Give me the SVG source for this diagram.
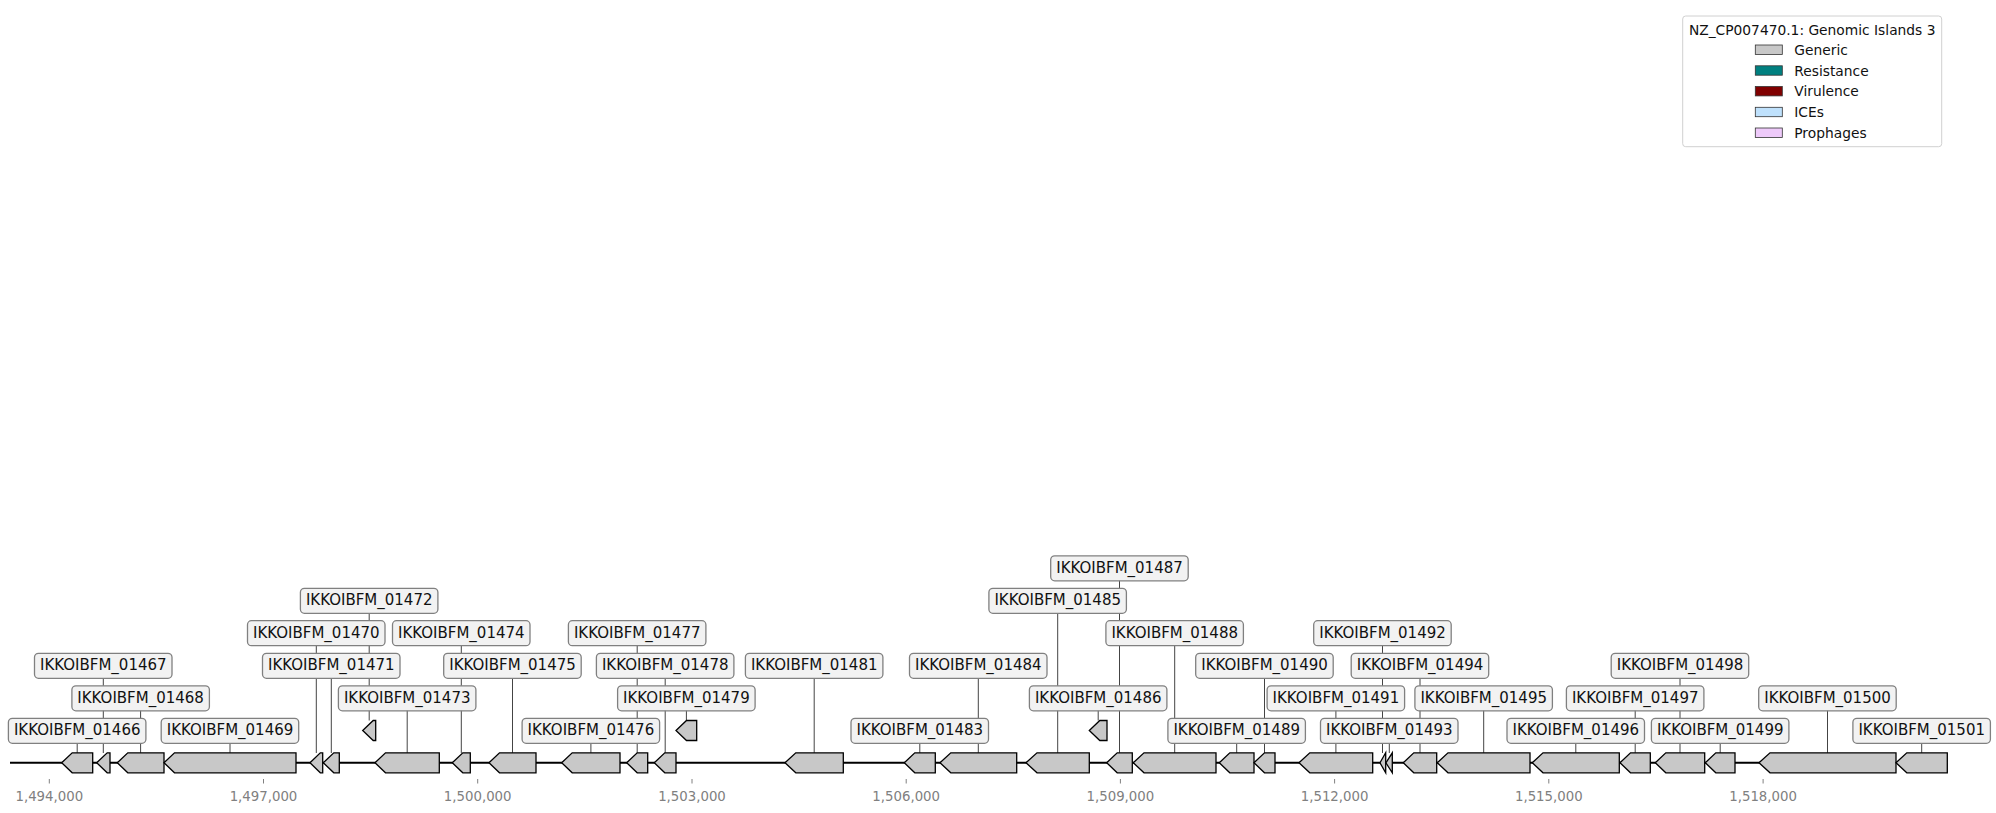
<svg xmlns="http://www.w3.org/2000/svg" width="1996" height="813" viewBox="0 0 1996 813">
  <style>
    text { font-family: "DejaVu Sans", "Liberation Sans", sans-serif; }
    .tick { stroke: #808080; stroke-width: 1; }
    .ticklbl { font-size: 13.3px; fill: #808080; text-anchor: middle; }
    .backbone { stroke: #000; stroke-width: 2; fill: none; }
    .lead { stroke: #444; stroke-width: 1; fill: none; }
    .gene { fill: #c8c8c8; stroke: #000; stroke-width: 1.3; stroke-linejoin: miter; }
    .lbox { fill: #f2f2f2; stroke: #808080; stroke-width: 1.3; }
    .ltxt { font-size: 15px; fill: #111; text-anchor: middle; }
    .legbox { fill: #fff; stroke: #d0d0d0; stroke-width: 1; }
    .legtxt { font-size: 13.8px; fill: #111; }
    .legpatch { stroke: #333; stroke-width: 0.8; }
  </style>

  <!-- legend -->
  <g id="legend">
    <rect class="legbox" x="1682.7" y="16" width="259" height="130.7" rx="3"/>
    <text class="legtxt" x="1812.2" y="34.5" text-anchor="middle">NZ_CP007470.1: Genomic Islands 3</text>
    <rect class="legpatch" x="1755.3" y="45" width="27" height="9.4" fill="#c8c8c8"/>
    <text class="legtxt" x="1794.3" y="54.8">Generic</text>
    <rect class="legpatch" x="1755.3" y="65.8" width="27" height="9.4" fill="#008080"/>
    <text class="legtxt" x="1794.3" y="75.6">Resistance</text>
    <rect class="legpatch" x="1755.3" y="86.5" width="27" height="9.4" fill="#800000"/>
    <text class="legtxt" x="1794.3" y="96.3">Virulence</text>
    <rect class="legpatch" x="1755.3" y="107.3" width="27" height="9.4" fill="#bfe1fc"/>
    <text class="legtxt" x="1794.3" y="117.1">ICEs</text>
    <rect class="legpatch" x="1755.3" y="128" width="27" height="9.4" fill="#eecafa"/>
    <text class="legtxt" x="1794.3" y="137.8">Prophages</text>
  </g>

  <!-- coordinate axis -->
  <g id="axis">
    <line class="tick" x1="49.3" y1="779" x2="49.3" y2="783.5"/>
    <line class="tick" x1="263.5" y1="779" x2="263.5" y2="783.5"/>
    <line class="tick" x1="477.7" y1="779" x2="477.7" y2="783.5"/>
    <line class="tick" x1="692" y1="779" x2="692" y2="783.5"/>
    <line class="tick" x1="906.2" y1="779" x2="906.2" y2="783.5"/>
    <line class="tick" x1="1120.4" y1="779" x2="1120.4" y2="783.5"/>
    <line class="tick" x1="1334.6" y1="779" x2="1334.6" y2="783.5"/>
    <line class="tick" x1="1548.8" y1="779" x2="1548.8" y2="783.5"/>
    <line class="tick" x1="1763.1" y1="779" x2="1763.1" y2="783.5"/>
    <text class="ticklbl" x="49.3" y="800.6">1,494,000</text>
    <text class="ticklbl" x="263.5" y="800.6">1,497,000</text>
    <text class="ticklbl" x="477.7" y="800.6">1,500,000</text>
    <text class="ticklbl" x="692" y="800.6">1,503,000</text>
    <text class="ticklbl" x="906.2" y="800.6">1,506,000</text>
    <text class="ticklbl" x="1120.4" y="800.6">1,509,000</text>
    <text class="ticklbl" x="1334.6" y="800.6">1,512,000</text>
    <text class="ticklbl" x="1548.8" y="800.6">1,515,000</text>
    <text class="ticklbl" x="1763.1" y="800.6">1,518,000</text>
  </g>

  <!-- sequence backbone -->
  <line class="backbone" x1="10" y1="762.8" x2="1947" y2="762.8"/>

  <!-- label leader lines -->
  <g id="connectors">
    <line class="lead" x1="77.2" y1="730.8" x2="77.2" y2="753"/>
    <line class="lead" x1="103.3" y1="665.8" x2="103.3" y2="753"/>
    <line class="lead" x1="140.6" y1="698.3" x2="140.6" y2="753"/>
    <line class="lead" x1="230" y1="730.8" x2="230" y2="753"/>
    <line class="lead" x1="316.3" y1="633.2" x2="316.3" y2="753"/>
    <line class="lead" x1="331.3" y1="665.8" x2="331.3" y2="753"/>
    <line class="lead" x1="369.2" y1="600.8" x2="369.2" y2="720.5"/>
    <line class="lead" x1="407.2" y1="698.3" x2="407.2" y2="753"/>
    <line class="lead" x1="461.3" y1="633.2" x2="461.3" y2="753"/>
    <line class="lead" x1="512.5" y1="665.8" x2="512.5" y2="753"/>
    <line class="lead" x1="590.9" y1="730.8" x2="590.9" y2="753"/>
    <line class="lead" x1="637.2" y1="633.2" x2="637.2" y2="753"/>
    <line class="lead" x1="665.2" y1="665.8" x2="665.2" y2="753"/>
    <line class="lead" x1="686.4" y1="698.3" x2="686.4" y2="720.5"/>
    <line class="lead" x1="814.2" y1="665.8" x2="814.2" y2="753"/>
    <line class="lead" x1="919.8" y1="730.8" x2="919.8" y2="753"/>
    <line class="lead" x1="978.3" y1="665.8" x2="978.3" y2="753"/>
    <line class="lead" x1="1057.7" y1="600.8" x2="1057.7" y2="753"/>
    <line class="lead" x1="1098.2" y1="698.3" x2="1098.2" y2="720.5"/>
    <line class="lead" x1="1119.5" y1="568.3" x2="1119.5" y2="753"/>
    <line class="lead" x1="1174.7" y1="633.2" x2="1174.7" y2="753"/>
    <line class="lead" x1="1236.7" y1="730.8" x2="1236.7" y2="753"/>
    <line class="lead" x1="1264.5" y1="665.8" x2="1264.5" y2="753"/>
    <line class="lead" x1="1335.9" y1="698.3" x2="1335.9" y2="753"/>
    <line class="lead" x1="1382.5" y1="633.2" x2="1382.5" y2="753"/>
    <line class="lead" x1="1389.3" y1="730.8" x2="1389.3" y2="753"/>
    <line class="lead" x1="1420" y1="665.8" x2="1420" y2="753"/>
    <line class="lead" x1="1483.7" y1="698.3" x2="1483.7" y2="753"/>
    <line class="lead" x1="1575.8" y1="730.8" x2="1575.8" y2="753"/>
    <line class="lead" x1="1635.2" y1="698.3" x2="1635.2" y2="753"/>
    <line class="lead" x1="1680" y1="665.8" x2="1680" y2="753"/>
    <line class="lead" x1="1720.2" y1="730.8" x2="1720.2" y2="753"/>
    <line class="lead" x1="1827.5" y1="698.3" x2="1827.5" y2="753"/>
    <line class="lead" x1="1921.7" y1="730.8" x2="1921.7" y2="753"/>
  </g>

  <!-- genes (all on the reverse strand) with their labels -->
  <g id="IKKOIBFM_01466">
    <polygon class="gene" points="61.7,762.8 72.2,752.8 92.7,752.8 92.7,772.8 72.2,772.8"/>
    <rect class="lbox" x="8.4" y="718.3" width="137.5" height="25" rx="4"/>
    <text class="ltxt" x="77.2" y="735.2">IKKOIBFM_01466</text>
  </g>
  <g id="IKKOIBFM_01467">
    <polygon class="gene" points="96.7,762.8 107.2,752.8 110,752.8 110,772.8 107.2,772.8"/>
    <rect class="lbox" x="34.5" y="653.3" width="137.5" height="25" rx="4"/>
    <text class="ltxt" x="103.3" y="670.2">IKKOIBFM_01467</text>
  </g>
  <g id="IKKOIBFM_01468">
    <polygon class="gene" points="117.3,762.8 127.8,752.8 164,752.8 164,772.8 127.8,772.8"/>
    <rect class="lbox" x="71.9" y="685.8" width="137.5" height="25" rx="4"/>
    <text class="ltxt" x="140.6" y="702.7">IKKOIBFM_01468</text>
  </g>
  <g id="IKKOIBFM_01469">
    <polygon class="gene" points="164,762.8 174.5,752.8 296,752.8 296,772.8 174.5,772.8"/>
    <rect class="lbox" x="161.2" y="718.3" width="137.5" height="25" rx="4"/>
    <text class="ltxt" x="230" y="735.2">IKKOIBFM_01469</text>
  </g>
  <g id="IKKOIBFM_01470">
    <polygon class="gene" points="310,762.8 320.3,752.8 322.7,752.8 322.7,772.8 320.3,772.8"/>
    <rect class="lbox" x="247.5" y="620.7" width="137.5" height="25" rx="4"/>
    <text class="ltxt" x="316.3" y="637.6">IKKOIBFM_01470</text>
  </g>
  <g id="IKKOIBFM_01471">
    <polygon class="gene" points="323.3,762.8 333.8,752.8 339.3,752.8 339.3,772.8 333.8,772.8"/>
    <rect class="lbox" x="262.5" y="653.3" width="137.5" height="25" rx="4"/>
    <text class="ltxt" x="331.3" y="670.2">IKKOIBFM_01471</text>
  </g>
  <g id="IKKOIBFM_01472">
    <polygon class="gene" points="362.7,730.5 373.2,720.5 375.7,720.5 375.7,740.5 373.2,740.5"/>
    <rect class="lbox" x="300.4" y="588.3" width="137.5" height="25" rx="4"/>
    <text class="ltxt" x="369.2" y="605.2">IKKOIBFM_01472</text>
  </g>
  <g id="IKKOIBFM_01473">
    <polygon class="gene" points="375,762.8 385.5,752.8 439.3,752.8 439.3,772.8 385.5,772.8"/>
    <rect class="lbox" x="338.4" y="685.8" width="137.5" height="25" rx="4"/>
    <text class="ltxt" x="407.2" y="702.7">IKKOIBFM_01473</text>
  </g>
  <g id="IKKOIBFM_01474">
    <polygon class="gene" points="452.3,762.8 462.8,752.8 470.3,752.8 470.3,772.8 462.8,772.8"/>
    <rect class="lbox" x="392.5" y="620.7" width="137.5" height="25" rx="4"/>
    <text class="ltxt" x="461.3" y="637.6">IKKOIBFM_01474</text>
  </g>
  <g id="IKKOIBFM_01475">
    <polygon class="gene" points="489,762.8 499.5,752.8 536,752.8 536,772.8 499.5,772.8"/>
    <rect class="lbox" x="443.7" y="653.3" width="137.5" height="25" rx="4"/>
    <text class="ltxt" x="512.5" y="670.2">IKKOIBFM_01475</text>
  </g>
  <g id="IKKOIBFM_01476">
    <polygon class="gene" points="561.7,762.8 572.2,752.8 620,752.8 620,772.8 572.2,772.8"/>
    <rect class="lbox" x="522.1" y="718.3" width="137.5" height="25" rx="4"/>
    <text class="ltxt" x="590.9" y="735.2">IKKOIBFM_01476</text>
  </g>
  <g id="IKKOIBFM_01477">
    <polygon class="gene" points="626.7,762.8 637.2,752.8 647.7,752.8 647.7,772.8 637.2,772.8"/>
    <rect class="lbox" x="568.4" y="620.7" width="137.5" height="25" rx="4"/>
    <text class="ltxt" x="637.2" y="637.6">IKKOIBFM_01477</text>
  </g>
  <g id="IKKOIBFM_01478">
    <polygon class="gene" points="654.3,762.8 664.8,752.8 676,752.8 676,772.8 664.8,772.8"/>
    <rect class="lbox" x="596.4" y="653.3" width="137.5" height="25" rx="4"/>
    <text class="ltxt" x="665.2" y="670.2">IKKOIBFM_01478</text>
  </g>
  <g id="IKKOIBFM_01479">
    <polygon class="gene" points="676,730.5 686.5,720.5 696.7,720.5 696.7,740.5 686.5,740.5"/>
    <rect class="lbox" x="617.6" y="685.8" width="137.5" height="25" rx="4"/>
    <text class="ltxt" x="686.4" y="702.7">IKKOIBFM_01479</text>
  </g>
  <g id="IKKOIBFM_01481">
    <polygon class="gene" points="785,762.8 795.8,752.8 843.3,752.8 843.3,772.8 795.8,772.8"/>
    <rect class="lbox" x="745.4" y="653.3" width="137.5" height="25" rx="4"/>
    <text class="ltxt" x="814.2" y="670.2">IKKOIBFM_01481</text>
  </g>
  <g id="IKKOIBFM_01483">
    <polygon class="gene" points="904.3,762.8 914.8,752.8 935.3,752.8 935.3,772.8 914.8,772.8"/>
    <rect class="lbox" x="851" y="718.3" width="137.5" height="25" rx="4"/>
    <text class="ltxt" x="919.8" y="735.2">IKKOIBFM_01483</text>
  </g>
  <g id="IKKOIBFM_01484">
    <polygon class="gene" points="940,762.8 950.8,752.8 1016.7,752.8 1016.7,772.8 950.8,772.8"/>
    <rect class="lbox" x="909.5" y="653.3" width="137.5" height="25" rx="4"/>
    <text class="ltxt" x="978.3" y="670.2">IKKOIBFM_01484</text>
  </g>
  <g id="IKKOIBFM_01485">
    <polygon class="gene" points="1026,762.8 1037,752.8 1089.3,752.8 1089.3,772.8 1037,772.8"/>
    <rect class="lbox" x="988.9" y="588.3" width="137.5" height="25" rx="4"/>
    <text class="ltxt" x="1057.7" y="605.2">IKKOIBFM_01485</text>
  </g>
  <g id="IKKOIBFM_01486">
    <polygon class="gene" points="1089.3,730.5 1099.8,720.5 1107,720.5 1107,740.5 1099.8,740.5"/>
    <rect class="lbox" x="1029.4" y="685.8" width="137.5" height="25" rx="4"/>
    <text class="ltxt" x="1098.2" y="702.7">IKKOIBFM_01486</text>
  </g>
  <g id="IKKOIBFM_01487">
    <polygon class="gene" points="1106.7,762.8 1117.2,752.8 1132.3,752.8 1132.3,772.8 1117.2,772.8"/>
    <rect class="lbox" x="1050.7" y="555.8" width="137.5" height="25" rx="4"/>
    <text class="ltxt" x="1119.5" y="572.7">IKKOIBFM_01487</text>
  </g>
  <g id="IKKOIBFM_01488">
    <polygon class="gene" points="1133.3,762.8 1144,752.8 1216,752.8 1216,772.8 1144,772.8"/>
    <rect class="lbox" x="1105.9" y="620.7" width="137.5" height="25" rx="4"/>
    <text class="ltxt" x="1174.7" y="637.6">IKKOIBFM_01488</text>
  </g>
  <g id="IKKOIBFM_01489">
    <polygon class="gene" points="1219.3,762.8 1229.8,752.8 1254,752.8 1254,772.8 1229.8,772.8"/>
    <rect class="lbox" x="1167.9" y="718.3" width="137.5" height="25" rx="4"/>
    <text class="ltxt" x="1236.7" y="735.2">IKKOIBFM_01489</text>
  </g>
  <g id="IKKOIBFM_01490">
    <polygon class="gene" points="1254,762.8 1264.5,752.8 1275,752.8 1275,772.8 1264.5,772.8"/>
    <rect class="lbox" x="1195.7" y="653.3" width="137.5" height="25" rx="4"/>
    <text class="ltxt" x="1264.5" y="670.2">IKKOIBFM_01490</text>
  </g>
  <g id="IKKOIBFM_01491">
    <polygon class="gene" points="1299,762.8 1309.8,752.8 1372.7,752.8 1372.7,772.8 1309.8,772.8"/>
    <rect class="lbox" x="1267.1" y="685.8" width="137.5" height="25" rx="4"/>
    <text class="ltxt" x="1335.9" y="702.7">IKKOIBFM_01491</text>
  </g>
  <g id="IKKOIBFM_01492">
    <polygon class="gene" points="1380,762.8 1385.7,752.8 1385.7,772.8"/>
    <rect class="lbox" x="1313.7" y="620.7" width="137.5" height="25" rx="4"/>
    <text class="ltxt" x="1382.5" y="637.6">IKKOIBFM_01492</text>
  </g>
  <g id="IKKOIBFM_01493">
    <polygon class="gene" points="1385.9,762.8 1392.3,752.8 1392.3,772.8"/>
    <rect class="lbox" x="1320.5" y="718.3" width="137.5" height="25" rx="4"/>
    <text class="ltxt" x="1389.3" y="735.2">IKKOIBFM_01493</text>
  </g>
  <g id="IKKOIBFM_01494">
    <polygon class="gene" points="1403.3,762.8 1413.8,752.8 1436.7,752.8 1436.7,772.8 1413.8,772.8"/>
    <rect class="lbox" x="1351.2" y="653.3" width="137.5" height="25" rx="4"/>
    <text class="ltxt" x="1420" y="670.2">IKKOIBFM_01494</text>
  </g>
  <g id="IKKOIBFM_01495">
    <polygon class="gene" points="1437.3,762.8 1448,752.8 1530,752.8 1530,772.8 1448,772.8"/>
    <rect class="lbox" x="1414.9" y="685.8" width="137.5" height="25" rx="4"/>
    <text class="ltxt" x="1483.7" y="702.7">IKKOIBFM_01495</text>
  </g>
  <g id="IKKOIBFM_01496">
    <polygon class="gene" points="1532.3,762.8 1543,752.8 1619.3,752.8 1619.3,772.8 1543,772.8"/>
    <rect class="lbox" x="1507" y="718.3" width="137.5" height="25" rx="4"/>
    <text class="ltxt" x="1575.8" y="735.2">IKKOIBFM_01496</text>
  </g>
  <g id="IKKOIBFM_01497">
    <polygon class="gene" points="1620,762.8 1630.5,752.8 1650.3,752.8 1650.3,772.8 1630.5,772.8"/>
    <rect class="lbox" x="1566.4" y="685.8" width="137.5" height="25" rx="4"/>
    <text class="ltxt" x="1635.2" y="702.7">IKKOIBFM_01497</text>
  </g>
  <g id="IKKOIBFM_01498">
    <polygon class="gene" points="1655.3,762.8 1665.8,752.8 1704.7,752.8 1704.7,772.8 1665.8,772.8"/>
    <rect class="lbox" x="1611.2" y="653.3" width="137.5" height="25" rx="4"/>
    <text class="ltxt" x="1680" y="670.2">IKKOIBFM_01498</text>
  </g>
  <g id="IKKOIBFM_01499">
    <polygon class="gene" points="1705.3,762.8 1715.8,752.8 1735,752.8 1735,772.8 1715.8,772.8"/>
    <rect class="lbox" x="1651.4" y="718.3" width="137.5" height="25" rx="4"/>
    <text class="ltxt" x="1720.2" y="735.2">IKKOIBFM_01499</text>
  </g>
  <g id="IKKOIBFM_01500">
    <polygon class="gene" points="1759,762.8 1770,752.8 1896,752.8 1896,772.8 1770,772.8"/>
    <rect class="lbox" x="1758.7" y="685.8" width="137.5" height="25" rx="4"/>
    <text class="ltxt" x="1827.5" y="702.7">IKKOIBFM_01500</text>
  </g>
  <g id="IKKOIBFM_01501">
    <polygon class="gene" points="1896,762.8 1906.8,752.8 1947.3,752.8 1947.3,772.8 1906.8,772.8"/>
    <rect class="lbox" x="1852.9" y="718.3" width="137.5" height="25" rx="4"/>
    <text class="ltxt" x="1921.7" y="735.2">IKKOIBFM_01501</text>
  </g>
</svg>
